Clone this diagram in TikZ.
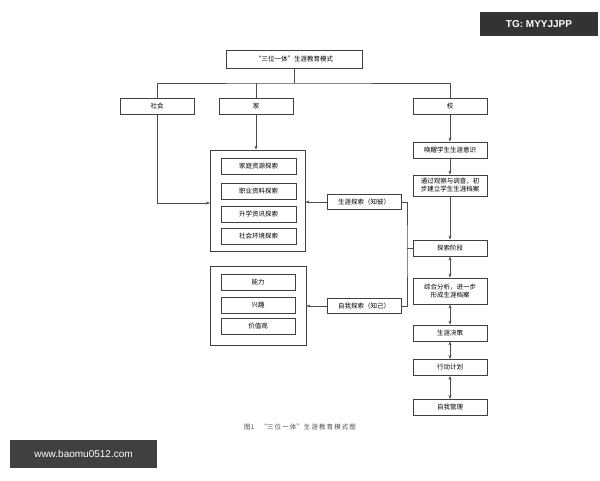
\documentclass[tikz,border=0pt]{standalone}
\usepackage{fontspec}
\setmainfont{Noto Sans CJK SC}
\newfontfamily\latinsans{Liberation Sans}
\usetikzlibrary{arrows.meta}
\begin{document}
\begin{tikzpicture}[x=1pt,y=-1pt,
	box/.style={draw=black!75,line width=0.8pt,fill=white,minimum height=16pt,minimum width=74pt,inner sep=1pt,font=\fontsize{6.5}{8}\selectfont},
	wide/.style={box,minimum height=21pt,align=center},
	link/.style={draw=black!70,line width=0.7pt},
	arr/.style={link,-{Stealth[length=4pt,width=3pt]}},
	both/.style={link,{Stealth[length=4pt,width=3pt]}-{Stealth[length=4pt,width=3pt]}}]
	
	\useasboundingbox[fill=white] (0,0) rectangle (600,480);
	
	%% top level
	\node[box,minimum width=136pt,minimum height=18pt] (title) at (294,59) {“三位一体”生涯教育模式};
	\node[box] (soc) at (157,106) {社会};
	\node[box] (home) at (256,106) {家};
	\node[box] (school) at (450,106) {校};
	\coordinate (hub) at (294,83);
	\draw[link] (title) -- (hub);
	\draw[link] (soc.north) |- (hub) -| (school.north);
	\draw[link] (home.north) -- (home.north |- hub);
	
	%% left groups
	\node[draw=black!75,line width=0.8pt,minimum width=95pt,minimum height=101pt] (known) at (257.5,200.5) {};
	\node[box,minimum width=75pt] (k1) at (258.5,166) {家庭资源探索};
	\node[box,minimum width=75pt] (k2) at (258.5,191) {职业资料探索};
	\node[box,minimum width=75pt] (k3) at (258.5,214) {升学资讯探索};
	\node[box,minimum width=75pt] (k4) at (258.5,236) {社会环境探索};
	
	\node[draw=black!75,line width=0.8pt,minimum width=96pt,minimum height=79pt] (self) at (258,305.5) {};
	\node[box] (s1) at (258,282) {能力};
	\node[box] (s2) at (258,305) {兴趣};
	\node[box] (s3) at (258,326) {价值观};
	
	\draw[arr] (soc.south) |- (210,203);
	\draw[arr] (home.south) -- (home.south |- known.north);
	
	%% exploration
	\node[box,minimum height=15pt] (other) at (364,202) {生涯探索（知彼）};
	\node[box,minimum height=15pt] (me) at (364,306) {自我探索（知己）};
	\draw[arr] (other) -- (other -| known.east);
	\draw[arr] (me) -- (me -| self.east);
	
	%% school column
	\node[box] (wake) at (450,150) {唤醒学生生涯意识};
	\node[wide] (obs) at (450,185.5) {通过观察与调查，初\\步建立学生生涯档案};
	\node[box] (stage) at (450,248) {探索阶段};
	\node[wide,minimum height=26pt] (anal) at (450,291) {综合分析，进一步\\形成生涯档案};
	\node[box] (dec) at (450,333) {生涯决策};
	\node[box] (plan) at (450,367.5) {行动计划};
	\node[box] (mgmt) at (450,407.5) {自我管理};
	\draw[arr] (school) -- (wake);
	\draw[arr] (wake) -- (obs);
	\draw[arr] (obs) -- (stage);
	\draw[both] (stage) -- (anal);
	\draw[both] (anal) -- (dec);
	\draw[both] (dec) -- (plan);
	\draw[both] (plan) -- (mgmt);
	
	\coordinate (bar) at (407,248);
	\draw[link] (other.east) -| (bar) |- (me.east);
	\draw[link] (bar) -- (stage.west);
	
	%% caption and marks
	\node[font=\fontsize{6.5}{8}\selectfont,text=black!70] (cap) at (300,427) {图1\quad “三\,位\,一\,体”\,生\,涯\,教\,育\,模\,式\,图};
	\node[fill=black!80,text=white,font=\latinsans\bfseries\fontsize{10}{12}\selectfont,minimum width=118pt,minimum height=24pt] (tg) at (539,24) {TG: MYYJJPP};
	\node[fill=black!75,text=white,font=\latinsans\fontsize{10}{12}\selectfont,minimum width=147pt,minimum height=28pt] (www) at (83.5,454) {www.baomu0512.com};
\end{tikzpicture}
\end{document}
